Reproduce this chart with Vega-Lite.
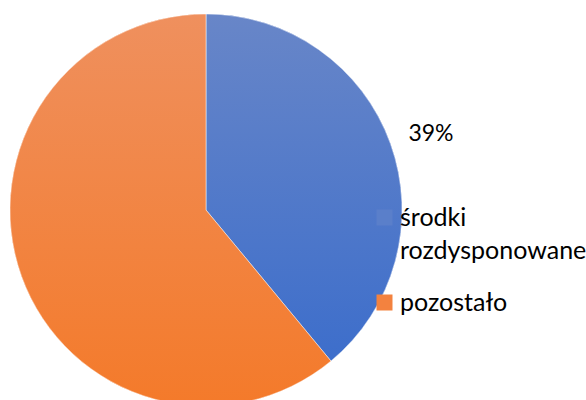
{
  "$schema": "https://vega.github.io/schema/vega-lite/v6.json",
  "width": 412,
  "height": 420,
  "padding": {"left": 0, "top": 0, "right": 174, "bottom": 0},
  "autosize": "none",
  "background": "white",
  "view": {"stroke": null},
  "config": {"style": {"guide-label": {"lineHeight": 33}}},
  "data": {"values": [
    {"kategoria": "środki rozdysponowane", "udzial": 0.39},
    {"kategoria": "pozostało", "udzial": 0.61}
  ]},
  "transform": [
    {"stack": "udzial", "groupby": [], "sort": [{"field": "udzial", "order": "ascending"}], "as": ["v0", "v1"]}
  ],
  "layer": [
    {
      "mark": {"type": "arc", "outerRadius": 196},
      "encoding": {
        "theta": {"field": "v0", "type": "quantitative", "scale": {"domain": [0, 1]}},
        "theta2": {"field": "v1"},
        "color": {
          "field": "kategoria",
          "type": "nominal",
          "sort": ["środki rozdysponowane", "pozostało"],
          "scale": {
            "domain": ["środki rozdysponowane", "pozostało"],
            "range": ["#5a7fca", "#f3823f"]
          },
          "legend": {
            "title": null,
            "orient": "none",
            "legendX": 372,
            "legendY": 205,
            "padding": 0,
            "symbolType": "square",
            "symbolSize": 256,
            "symbolStrokeWidth": 0,
            "symbolOpacity": 1,
            "labelFont": "Lato",
            "labelFontSize": 25,
            "labelColor": "#000000",
            "labelOffset": 3,
            "labelLimit": 300,
            "labelLineHeight": 33,
            "rowPadding": 26,
            "labelExpr": "split(datum.label, ' ')"
          }
        }
      }
    },
    {
      "transform": [{"filter": "datum.kategoria == 'środki rozdysponowane'"}],
      "mark": {"type": "arc", "outerRadius": 196, "stroke": "white", "strokeWidth": 0.5,
        "fill": {"gradient": "linear", "x1": 0, "y1": 0, "x2": 0, "y2": 1, "stops": [{"offset": 0, "color": "#6886c8"}, {"offset": 1, "color": "#3d6ecb"}]}},
      "encoding": {
        "theta": {"field": "v0", "type": "quantitative", "scale": {"domain": [0, 1]}},
        "theta2": {"field": "v1"}
      }
    },
    {
      "transform": [{"filter": "datum.kategoria == 'pozostało'"}],
      "mark": {"type": "arc", "outerRadius": 196, "stroke": "white", "strokeWidth": 0.5,
        "fill": {"gradient": "linear", "x1": 0, "y1": 0, "x2": 0, "y2": 1, "stops": [{"offset": 0, "color": "#ef905e"}, {"offset": 1, "color": "#f47a2a"}]}},
      "encoding": {
        "theta": {"field": "v0", "type": "quantitative", "scale": {"domain": [0, 1]}},
        "theta2": {"field": "v1"}
      }
    },
    {
      "transform": [{"filter": "datum.kategoria == 'środki rozdysponowane'"}],
      "mark": {"type": "text", "radius": 237, "dy": 4, "dx": 2, "font": "Lato", "fontSize": 23, "color": "#000000", "baseline": "middle", "align": "center"},
      "encoding": {
        "theta": {"field": "udzial", "type": "quantitative", "stack": true, "scale": {"domain": [0, 1]}},
        "text": {"field": "udzial", "type": "quantitative", "format": ".0%"}
      }
    }
  ]
}
